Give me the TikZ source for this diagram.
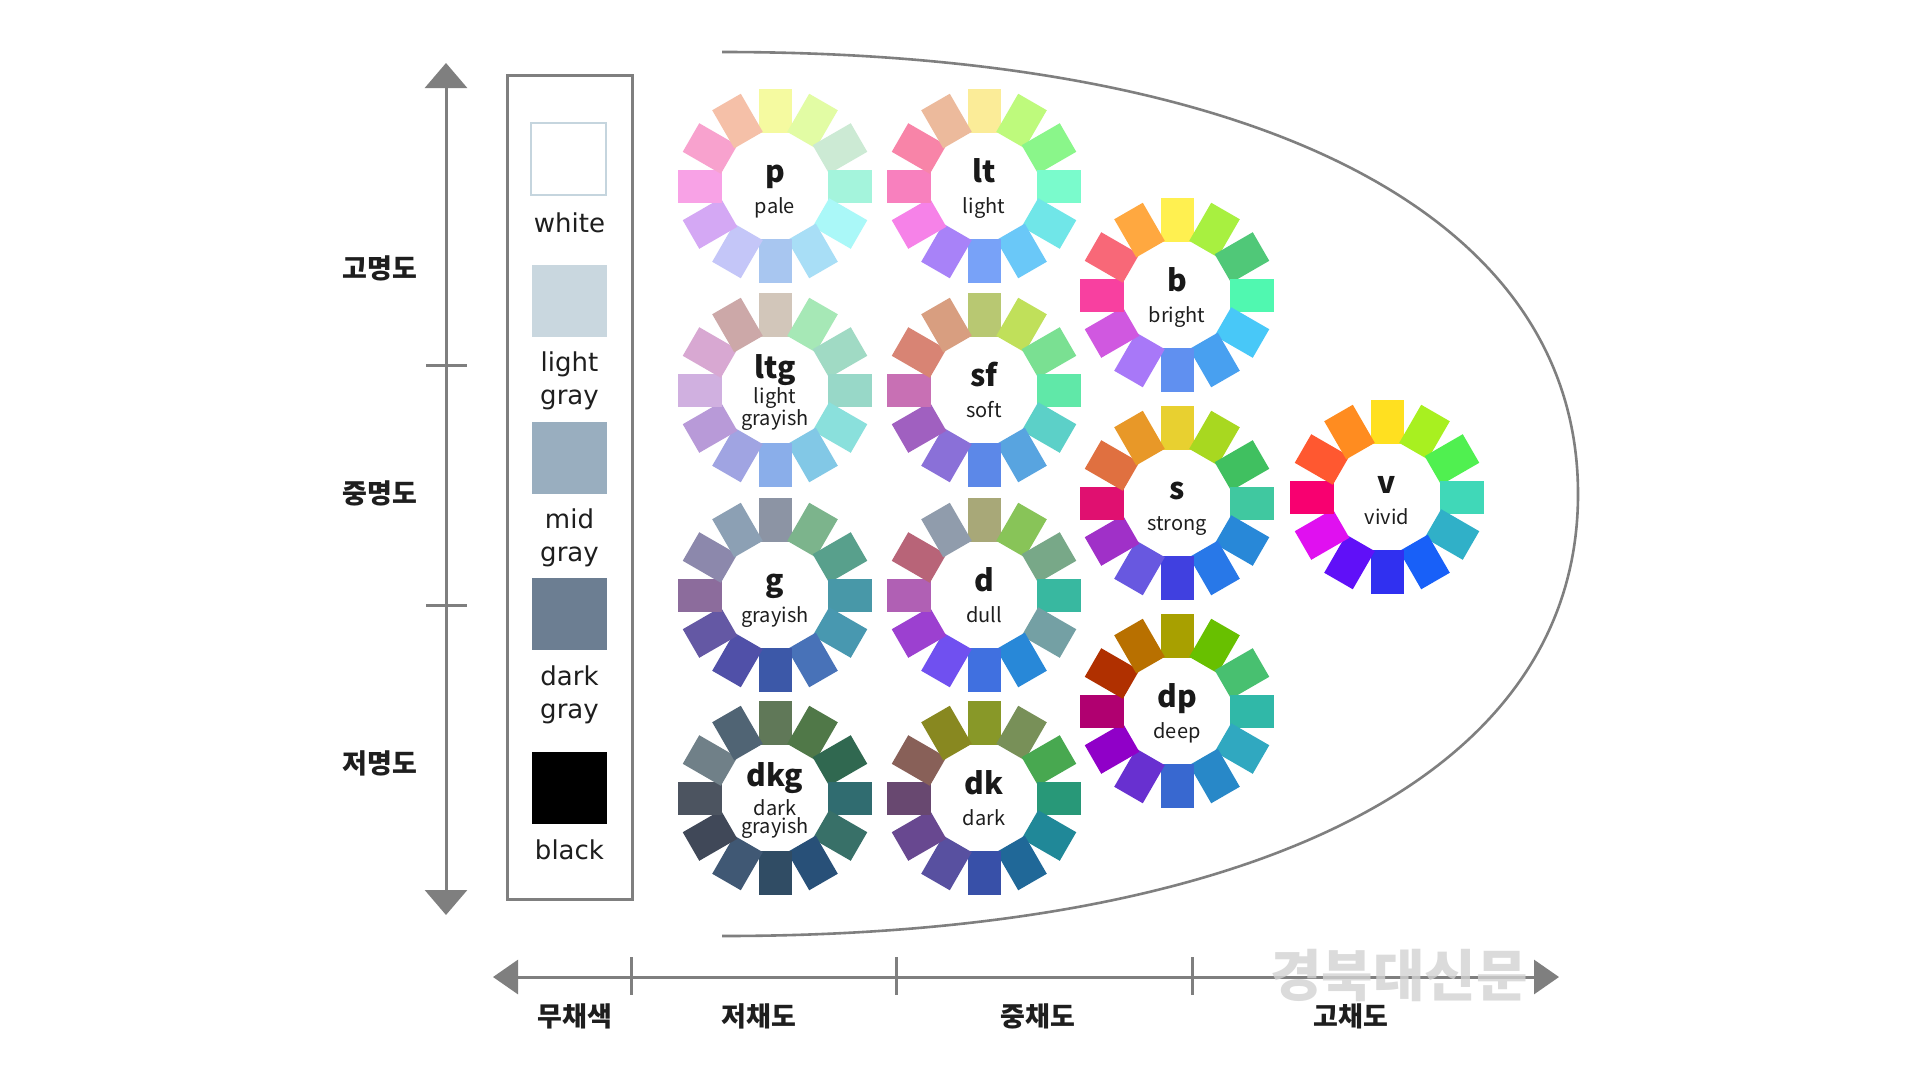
\documentclass[tikz,border=0pt]{standalone}
\usepackage{fontspec}
\setmainfont{DejaVu Sans}
\newfontfamily\kr{Noto Sans CJK KR}
\usetikzlibrary{arrows.meta}
\definecolor{axisgray}{HTML}{7F7F7F}
\definecolor{txt}{HTML}{1E1E1E}
\definecolor{swWhiteBorder}{HTML}{C5D5DE}
\definecolor{swLight}{HTML}{C9D7DF}
\definecolor{swMid}{HTML}{99AEBF}
\definecolor{swDark}{HTML}{6C7E92}
\definecolor{wmgray}{HTML}{D2D2D2}

\tikzset{
  axisline/.style={draw=axisgray, line width=3pt},
  vtips/.style={{Triangle[length=25pt,width=42pt]}-{Triangle[length=25pt,width=42pt]}},
  htips/.style={{Triangle[length=25pt,width=34pt]}-{Triangle[length=25pt,width=34pt]}},
  korlabel/.style={font=\kr\bfseries\fontsize{27}{27}\selectfont, text=txt, inner sep=0pt},
  collabel/.style={font=\fontsize{26}{33}\selectfont, text=txt, align=center, inner sep=0pt},
  swatch/.style={minimum width=75pt, minimum height=72pt, inner sep=0pt},
  codefont/.style={font=\kr\bfseries\fontsize{30}{30}\selectfont, text=black!90, inner sep=0pt},
  labfont/.style={font=\kr\fontsize{20}{15}\selectfont, text=txt, align=center, inner sep=0pt},
}

% #1 name, #2 cx, #3 cy, #4 colours (top first, clockwise)
\newcommand\wheelpetals[4]{%
  \foreach \c [count=\i from 0] in {#4} {
    \edef\tmpdef{\noexpand\definecolor{wc}{HTML}{\c}}\tmpdef
    \fill[wc, shift={(#2,#3)}, rotate={180-30*\i}] (-16.5,53) rectangle (16.5,97);
  }%
}
% single-line label
\newcommand\wheelone[6]{%
  \wheelpetals{#1}{#2}{#3}{#6}
  \node[codefont, anchor=base] (#1-code) at (#2,#3-4) {#4};
  \node[labfont, anchor=base] (#1-label) at (#2,#3+27) {#5};
}
% two-line label (base anchor = baseline of last line)
\newcommand\wheeltwo[6]{%
  \wheelpetals{#1}{#2}{#3}{#6}
  \node[codefont, anchor=base] (#1-code) at (#2,#3-12) {#4};
  \node[labfont, anchor=base] (#1-label) at (#2,#3+35) {#5};
}

\begin{document}
\begin{tikzpicture}[x=1pt,y=-1pt]
\fill[white] (0,0) rectangle (1920,1080);
\useasboundingbox (0,0) rectangle (1920,1080);

% ---- lightness axis ----
\coordinate (vtop) at (446,63);
\coordinate (vbot) at (446,915);
\draw[axisline, vtips] (vtop) -- (vbot);
\coordinate (vt1a) at (426,365); \coordinate (vt1b) at (467,365);
\coordinate (vt2a) at (426,605); \coordinate (vt2b) at (467,605);
\draw[axisline] (vt1a) -- (vt1b);
\draw[axisline] (vt2a) -- (vt2b);
\node[korlabel] (hiL) at (380,268) {고명도};
\node[korlabel] (midL) at (380,493) {중명도};
\node[korlabel] (loL) at (380,763) {저명도};

% ---- chroma axis ----
\coordinate (hleft) at (493,977);
\coordinate (hright) at (1559,977);
\draw[axisline, htips] (hleft) -- (hright);
\foreach \x [count=\k] in {631,896,1192} {
  \coordinate (ht\k a) at (\x,957); \coordinate (ht\k b) at (\x,995);
  \draw[axisline] (ht\k a) -- (ht\k b);
}
\node[korlabel] (achro) at (575,1016) {무채색};
\node[korlabel] (lowC) at (759,1016) {저채도};
\node[korlabel] (midC) at (1038,1016) {중채도};
\node[korlabel] (hiC) at (1351,1016) {고채도};

% ---- achromatic column ----
\node[draw=axisgray, line width=3pt, minimum width=125pt, minimum height=824pt, inner sep=0pt] (column) at (569.5,487) {};
\node[swatch, draw=swWhiteBorder, line width=2.5pt, fill=white] (swW) at (568.5,159) {};
\node[collabel] (labW) at (569.5,223) {white};
\node[swatch, fill=swLight] (swL) at (569.5,300.5) {};
\node[collabel] (labL) at (569.5,381) {light\\gray};
\node[swatch, fill=swMid] (swM) at (569.5,457.5) {};
\node[collabel] (labM) at (569.5,538) {mid\\gray};
\node[swatch, fill=swDark] (swD) at (569.5,614) {};
\node[collabel] (labD) at (569.5,695) {dark\\gray};
\node[swatch, fill=black] (swB) at (569.5,787.5) {};
\node[collabel] (labB) at (569.5,850) {black};

% ---- chromatic region outline ----
\coordinate (ctop) at (722,52);
\coordinate (cright) at (1578,494);
\coordinate (cbot) at (722,936);
\draw[draw=axisgray, line width=2.6pt] (ctop) .. controls (1250,52) and (1578,210) .. (cright)
      .. controls (1578,778) and (1250,936) .. (cbot);

% ---- tone wheels ----
\wheelone{p}{775}{186}{p}{pale}{F5FAA0,E2FCA4,CCEAD4,A4F4DC,AAF8F8,A8DEF6,A8C6F0,C4C6F8,D4A8F4,F8A2E6,F8A2CE,F5C0A8}
\wheelone{lt}{984}{186}{lt}{light}{FBEC98,BEFA7C,8AF68A,7AFBCC,70E6E8,6AC8F8,78A2F8,A882F8,F682E8,F880BE,F884A8,ECBA9C}
\wheeltwo{ltg}{775}{390}{ltg}{light\\grayish}{D2C6BA,A6E8B6,A0DAC4,98D8C8,8AE0DC,82C8E6,8AAEEA,A0A4E2,B89AD8,D0B0E0,D8A8D2,CCA8A8}
\wheelone{sf}{984}{390}{sf}{soft}{B8C872,C0E05A,7AE092,60E8A8,5CD0C8,58A4E0,5C88E8,8A70D8,A060C0,C870B4,D88474,D89E80}
\wheelone{g}{775}{595}{g}{grayish}{8C94A4,7CB48C,58A08C,4898A8,4898B0,4872B8,3C58A8,5050A8,6458A4,8C6C9C,8C88AC,8CA0B4}
\wheelone{d}{984}{595}{d}{dull}{A8A878,88C458,78A888,38B8A0,74A0A4,2888D8,4070E0,7050F0,9C40D0,B060B4,B86478,909CAC}
\wheeltwo{dkg}{775}{798}{dkg}{dark\\grayish}{607858,507848,306850,306C70,387068,285078,304C64,405874,404858,4C5460,708088,506474}
\wheelone{dk}{984}{798}{dk}{dark}{889828,789058,48A850,289878,208898,206898,3850A8,5850A0,684890,684870,886058,888820}
\wheelone{b}{1177}{295}{b}{bright}{FFF050,A8F040,50C878,50F8B0,48C8F8,48A0F0,6090F0,A878F8,D058E0,F840A0,F86878,FFA840}
\wheelone{s}{1177}{503}{s}{strong}{E8D030,A8D820,40C060,40C8A0,2888D8,2878E8,4040E0,6858E0,A030C8,E01070,E07040,E89828}
\wheelone{dp}{1177}{711}{dp}{deep}{A8A000,68C000,48C070,30B8A8,30A8C0,2888C8,3868D0,6830D0,9000C8,B00070,B03000,B87000}
\wheelone{v}{1387}{497}{v}{vivid}{FFE020,A8F020,50F050,40D8B8,30B0C8,1860F8,3030F0,6010F8,E010F0,F80070,FF5830,FF8C20}

% ---- watermark ----
\node[font=\kr\bfseries\fontsize{56}{56}\selectfont, text=wmgray, opacity=0.8, inner sep=0pt] (wm) at (1399,976) {경북대신문};
\end{tikzpicture}
\end{document}
